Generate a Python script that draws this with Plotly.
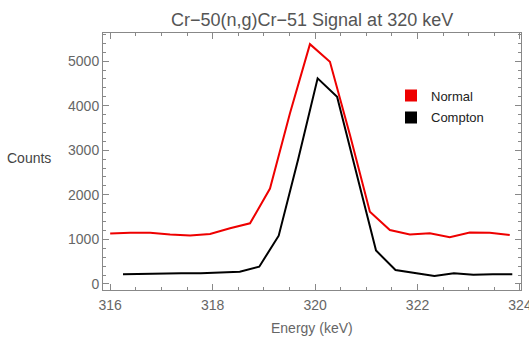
import plotly.graph_objects as go

normal_energy = [316.0 + 0.39 * i for i in range(21)]
normal_counts = [1130, 1150, 1150, 1110, 1090, 1120, 1250, 1361, 2140, 3830, 5380,
                 4985, 3350, 1620, 1210, 1110, 1140, 1050, 1155, 1150, 1100]

compton_energy = [316.25 + 0.38 * i for i in range(21)]
compton_counts = [217, 230, 235, 240, 240, 250, 276, 388, 1083, 2800, 4612,
                  4200, 2500, 750, 314, 240, 180, 240, 205, 220, 220]

series_names = ["Normal", "Compton"]
series_colors = ["#ee0000", "#000000"]

x_ticks = [316, 318, 320, 322, 324]
y_ticks = [0, 1000, 2000, 3000, 4000, 5000]

FONT = "Liberation Sans, Arial, sans-serif"
GRAY = "#666666"

fig = go.Figure()
for xs, ys, c in [(normal_energy, normal_counts, series_colors[0]),
                  (compton_energy, compton_counts, series_colors[1])]:
    fig.add_trace(go.Scatter(x=xs, y=ys, mode="lines", showlegend=False,
                             line=dict(color=c, width=2)))
for name, c in zip(series_names, series_colors):
    fig.add_trace(go.Scatter(x=[None], y=[None], mode="markers", name=name,
                             legendgroup=name,
                             marker=dict(symbol="square", size=12, color=c)))

axis_common = dict(showgrid=False, zeroline=False, showline=True, linecolor="#888888",
                   linewidth=1, mirror="allticks", ticks="inside", tickcolor="#888888",
                   ticklen=6, ticklabeloverflow="allow", automargin=False,
                   tickfont=dict(family=FONT, size=14, color=GRAY))

fig.update_xaxes(range=[315.86, 324.02], tickvals=x_ticks, ticklabelstandoff=2,
                 minor=dict(dtick=0.5, ticks="inside", ticklen=3, tickcolor="#888888"),
                 **axis_common)
fig.update_yaxes(range=[-135, 5630], tickvals=y_ticks,
                 minor=dict(dtick=200, ticks="inside", ticklen=3, tickcolor="#888888"),
                 **axis_common)

fig.update_layout(
    width=529, height=337,
    margin=dict(l=103, r=8, t=33, b=47, autoexpand=False),
    paper_bgcolor="white", plot_bgcolor="white",
    title=dict(text="Cr\u221250(n,g)Cr\u221251 Signal at 320 keV", x=0.59, xanchor="center",
               y=0.941, yanchor="middle", font=dict(family=FONT, size=18, color="#555555")),
    legend=dict(x=0.689, y=0.815, xanchor="left", yanchor="top", bgcolor="rgba(0,0,0,0)",
                font=dict(family=FONT, size=13, color="#222222"), itemwidth=30,
                tracegroupgap=2),
    annotations=[
        dict(text="Counts", xref="paper", yref="paper", x=-0.12, y=0.514,
             xanchor="right", yanchor="middle", showarrow=False,
             font=dict(family=FONT, size=14, color="#444444")),
        dict(text="Energy (keV)", xref="paper", yref="paper", x=0.5, y=-0.148,
             xanchor="center", yanchor="middle", showarrow=False,
             font=dict(family=FONT, size=14, color=GRAY)),
    ],
)

fig.write_html("out.html", config={"responsive": False, "displayModeBar": False},
               post_script="document.body.style.margin='0';document.body.style.overflow='hidden';")
